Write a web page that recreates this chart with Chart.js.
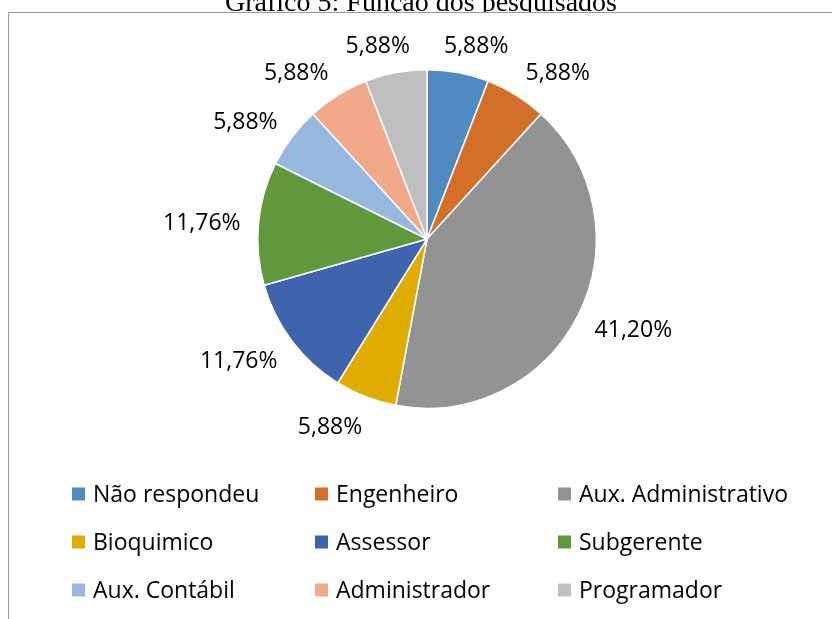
<!DOCTYPE html>
<html>
<head>
<meta charset="utf-8">
<script src="https://cdn.jsdelivr.net/npm/chart.js@4/dist/chart.umd.min.js"></script>
<style>
  html, body { margin: 0; padding: 0; background: #fff; }
  #wrap { position: relative; width: 832px; height: 619px; }
</style>
</head>
<body>
<div id="wrap"><canvas id="pieChart" width="832" height="619"></canvas></div>
<script>
const categories = ['Não respondeu', 'Engenheiro', 'Aux. Administrativo', 'Bioquimico', 'Assessor',
    'Subgerente', 'Aux. Contábil', 'Administrador', 'Programador'];
const shares = [5.88, 5.88, 41.20, 5.88, 11.76, 11.76, 5.88, 5.88, 5.88];
const sliceColors = ['#4F8BC0', '#D46F2A', '#939393', '#E0AC00', '#3D64AD',
    '#5F993C', '#97B9E0', '#F1A98A', '#BFBFBF'];
const titleText = 'Gráfico 5: Função dos pesquisados';

const fmt = v => v.toFixed(2).replace('.', ',') + '%';

// frame + title that is cut off by the page top and the chart box
const framePlugin = {
    id: 'frame',
    beforeDraw(chart) {
        const ctx = chart.ctx;
        ctx.save();
        ctx.beginPath();
        ctx.rect(0, 0, 832, 12);
        ctx.clip();
        ctx.fillStyle = '#000';
        ctx.font = '28px "Liberation Serif"';
        ctx.textAlign = 'center';
        ctx.textBaseline = 'alphabetic';
        ctx.fillText(titleText, 421, 11);
        ctx.restore();

        ctx.save();
        ctx.strokeStyle = '#9A9A9A';
        ctx.lineWidth = 1;
        ctx.beginPath();
        ctx.moveTo(8.5, 619);
        ctx.lineTo(8.5, 12.5);
        ctx.lineTo(832, 12.5);
        ctx.stroke();
        ctx.restore();
    }
};

// percent labels outside the slices
const outsideLabels = {
    id: 'outsideLabels',
    afterDatasetsDraw(chart) {
        const ctx = chart.ctx;
        const meta = chart.getDatasetMeta(0);
        ctx.save();
        ctx.font = '23px "Open Sans"';
        ctx.fillStyle = '#000';
        ctx.textAlign = 'center';
        ctx.textBaseline = 'middle';
        meta.data.forEach((arc, i) => {
            const p = arc.getProps(['x', 'y', 'startAngle', 'endAngle', 'outerRadius'], true);
            const mid = (p.startAngle + p.endAngle) / 2;
            const dx = Math.cos(mid), dy = Math.sin(mid);
            const txt = fmt(shares[i]);
            const w = ctx.measureText(txt).width;
            const h = 23;
            const r = p.outerRadius + 18;
            const sx = Math.max(-1, Math.min(1, dx * 2.5));
            const cx = p.x + dx * r + sx * w / 2;
            const cy = p.y + dy * r + dy * h / 2 + 3;
            ctx.fillText(txt, cx, cy);
        });
        ctx.restore();
    }
};

// 3-column legend like the original
const gridLegend = {
    id: 'gridLegend',
    afterDraw(chart) {
        const ctx = chart.ctx;
        const colX = [72, 315, 558];
        const rowY = [494, 542, 590];
        ctx.save();
        ctx.font = '23px "Open Sans"';
        ctx.textBaseline = 'middle';
        ctx.textAlign = 'left';
        chart.data.labels.forEach((lab, i) => {
            const x = colX[i % 3], y = rowY[Math.floor(i / 3)];
            ctx.fillStyle = chart.data.datasets[0].backgroundColor[i];
            ctx.fillRect(x, y - 6.5, 13, 13);
            ctx.fillStyle = '#000';
            ctx.fillText(lab, x + 21, y + 1);
        });
        ctx.restore();
    }
};

new Chart(document.getElementById('pieChart').getContext('2d'), {
    type: 'pie',
    data: {
        labels: categories,
        datasets: [{
            data: shares,
            backgroundColor: sliceColors,
            borderColor: '#ffffff',
            borderWidth: 1.5
        }]
    },
    options: {
        animation: false,
        responsive: false,
        layout: { padding: { left: 257, right: 235, top: 69, bottom: 210 } },
        plugins: {
            legend: { display: false },
            tooltip: { enabled: false }
        }
    },
    plugins: [framePlugin, outsideLabels, gridLegend]
});
</script>
</body>
</html>
